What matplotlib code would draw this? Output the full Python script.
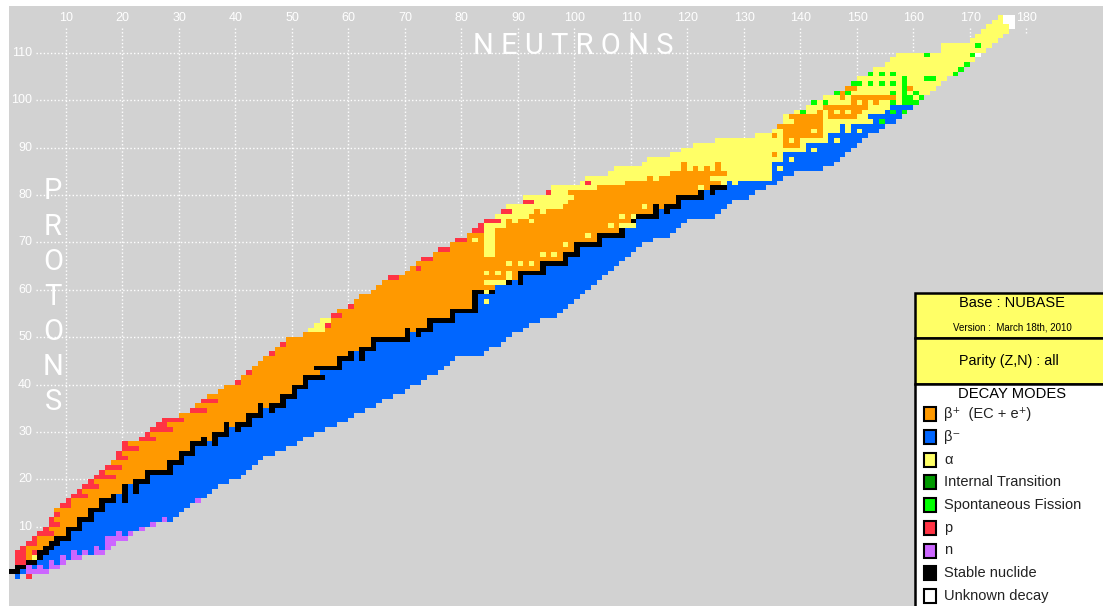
import matplotlib
matplotlib.use('Agg')
import matplotlib.pyplot as plt
import numpy as np
from matplotlib.colors import ListedColormap
from matplotlib.patches import Rectangle

# Lowest and highest neutron number drawn for each Z (index = Z)
n_min = [1, 0, 1, 1, 1, 1, 2, 3, 4, 5,
         6, 7, 7, 8, 8, 9, 10, 11, 12, 13,
         14, 15, 16, 17, 18, 19, 19, 20, 20, 23,
         24, 25, 26, 27, 30, 32, 33, 34, 35, 37,
         38, 40, 41, 42, 43, 44, 45, 46, 47, 48,
         49, 52, 53, 54, 55, 57, 58, 60, 61, 62,
         64, 65, 66, 67, 70, 71, 72, 73, 75, 76,
         78, 79, 81, 82, 83, 84, 86, 87, 88, 91,
         91, 95, 96, 101, 102, 106, 107, 112, 113, 117,
         119, 121, 125, 132, 135, 136, 137, 137, 139, 141,
         142, 144, 146, 148, 149, 150, 152, 153, 155, 156,
         157, 165, 165, 170, 171, 172, 173, 174, 175]
n_max = [1, 6, 8, 9, 12, 16, 17, 18, 20, 21,
         23, 25, 28, 29, 30, 31, 33, 34, 35, 36,
         38, 40, 41, 42, 43, 44, 46, 48, 50, 51,
         53, 55, 57, 59, 60, 62, 64, 65, 67, 69,
         70, 72, 73, 75, 76, 77, 78, 83, 84, 86,
         87, 88, 90, 91, 93, 96, 97, 98, 99, 100,
         101, 102, 103, 104, 105, 106, 107, 108, 109, 110,
         111, 113, 116, 117, 118, 119, 124, 125, 126, 127,
         130, 131, 133, 135, 136, 138, 143, 145, 146, 147,
         148, 149, 150, 151, 153, 154, 156, 157, 158, 159,
         160, 161, 162, 163, 164, 165, 167, 168, 169, 170,
         171, 172, 173, 174, 175, 176, 177, 177, 177]

# Stable nuclides, Z: N values
stable = {1: [0, 1], 2: [1, 2], 3: [3, 4], 4: [5], 5: [5, 6], 6: [6, 7], 7: [7, 8],
          8: [8, 9, 10], 9: [10], 10: [10, 11, 12], 11: [12], 12: [12, 13, 14], 13: [14],
          14: [14, 15, 16], 15: [16], 16: [16, 17, 18, 20], 17: [18, 20], 18: [20, 22],
          19: [20, 22], 20: [22, 23, 24], 21: [24], 22: [24, 25, 26, 27, 28], 23: [28],
          24: [28, 29, 30], 25: [30], 26: [30, 31, 32], 27: [32], 28: [32, 33, 34, 36],
          29: [34, 36], 30: [36, 37, 38], 31: [38, 40], 32: [38, 40, 41, 42], 33: [42],
          34: [42, 43, 44], 35: [44, 46], 36: [44, 46, 47, 48], 37: [48], 38: [48, 49, 50],
          39: [50], 40: [50, 51, 52], 41: [52], 42: [52, 53, 54, 55], 44: [54, 55, 56, 57, 58],
          45: [58], 46: [58, 59, 60, 62], 47: [60, 62], 48: [62, 63, 64], 49: [64],
          50: [64, 65, 66, 67, 68, 69, 70], 51: [70, 72], 52: [70, 72, 73, 74], 53: [74],
          54: [74, 75, 76, 77, 78], 55: [78], 56: [78, 79, 80, 81, 82], 57: [82], 58: [82],
          59: [82], 60: [82, 83, 85], 62: [88, 90], 63: [90], 64: [90, 91, 92, 93, 94],
          65: [94], 66: [94, 95, 96, 97, 98], 67: [98], 68: [98, 99, 100], 69: [100],
          70: [100, 101, 102, 103, 104], 71: [104], 72: [104, 105, 106, 107, 108], 73: [108],
          75: [110], 76: [111, 112, 113, 114], 77: [114, 116], 78: [114, 116, 117, 118],
          79: [118], 80: [118, 119, 120, 121, 122], 81: [122, 124], 82: [124, 125, 126]}

# First beta- neutron number where a row has no stable nuclide
blue_start = {0: 1, 43: 55, 61: 86, 74: 111,
              83: 129, 84: 135, 85: 135, 86: 135, 87: 135, 88: 137, 89: 137, 90: 141,
              91: 141, 92: 145, 93: 145, 94: 149, 95: 149, 96: 153, 97: 152, 98: 155, 99: 156}
blue_cells = {83: [127], 94: [147], 95: [147]}

alpha_cells = {4: [4], 52: [53, 54, 55], 53: [54, 55], 54: [55, 56], 58: [84], 60: [84],
               62: [84, 85, 86, 87], 63: [88], 64: [84, 86, 88], 66: [88, 90, 92],
               68: [84, 85, 94, 96], 69: [84, 85], 70: [84, 85, 98], 71: [82, 84, 85],
               72: [84, 85, 102], 73: [84, 85], 74: [84, 85, 86, 87, 106, 108, 109, 110],
               75: [87, 89, 92], 76: [86, 87, 88, 89, 90, 91, 108, 110],
               77: [89, 90, 91, 92, 94], 78: [*range(88, 98), 112], 79: [*range(93, 99)],
               80: [*range(91, 100)], 81: [96, 97, 98], 82: [*range(96, 104), 122],
               86: [136], 88: [138], 90: [142], 92: [146], 94: [148, 150], 95: [148]}

orange_cells = {29: [35], 32: [39], 36: [45], 52: [71], 63: [89], 78: [115],
                83: [*range(109, 126)], 84: [113, *range(115, 124)], 85: [*range(117, 127)],
                86: [119, 121, 123, 125], 87: [119, 125], 89: [135], 91: [137, 138, 139],
                92: [137, 139], 93: [135, *range(137, 144)], 94: [137, 138, 139, 140, 141, 143],
                95: [*range(136, 144)], 96: [*range(139, 144)],
                97: [*range(138, 144), *range(145, 150)], 98: [143, 145, 147, 149, 150],
                99: [*range(144, 152)], 100: [149, 151, 153], 101: [147, *range(149, 157)],
                102: [147], 103: [148, 149, 159]}

proton_cells = {0: [3], 3: [1, 2], 4: [1, 2], 5: [1, 2, 4], 6: [2], 7: [3, 4], 8: [4], 9: [5, 6, 7],
                10: [6], 11: [7, 8], 12: [7], 13: [8], 15: [9, 10], 16: [10], 17: [11, 12, 13],
                18: [12], 19: [13, 14, 15], 20: [14], 21: [15, 16, 17, 18], 22: [16],
                23: [17, 18, 19], 25: [19, 20], 26: [19], 27: [20, 21, 22], 28: [20],
                29: [23, 24, 25], 30: [24], 31: [25, 26, 27, 28], 32: [26, 27],
                33: [27, 28, 29, 30], 35: [32, 33, 34], 37: [34, 35, 36], 41: [40], 43: [42],
                47: [46], 49: [48], 53: [56], 55: [57, 58], 57: [60], 63: [67, 68], 65: [72],
                67: [73, 74], 69: [76, 77], 71: [79, 80], 73: [82, 83], 74: [83],
                75: [84, 85, 86], 77: [87, 88], 79: [91, 92], 81: [95], 83: [102]}

neutron_cells = {1: [3, 4, 5, 6], 2: [3, 5, 7, 8], 3: [7, 9], 4: [9, 11, 12], 5: [11, 13, 15, 16],
                 6: [15, 17], 7: [17, 18], 8: [17, 18, 19, 20], 9: [19, 21], 10: [23], 11: [25],
                 12: [27], 16: [33]}

fission_cells = {96: [154], 98: [140, 156, 158], 100: [142, 144, 156, 158, 159, 160],
                 101: [158, 159, 161], 102: [146, 148, 156, 158, 160], 103: [158],
                 104: [149, 150, 152, 154, 156, 158], 105: [158, 162, 163],
                 106: [152, 154, 156, 167], 107: [168], 108: [169], 110: [162, 170], 112: [171]}

unknown_cells = {110: [171], 116: [177], 117: [176, 177], 118: [176, 177]}

x_ticks = list(range(10, 190, 10))
y_ticks = list(range(10, 120, 10))

legend_labels = ['β⁺  (EC + e⁺)', 'β⁻', 'α', 'Internal Transition', 'Spontaneous Fission',
                 'p', 'n', 'Stable nuclide', 'Unknown decay']

ORANGE, BLUE, YELLOW = '#ff9900', '#0066ff', '#ffff66'
DGREEN, GREEN, RED, PURPLE = '#009900', '#00ff00', '#ff3344', '#cc66ff'
BG = '#d2d2d2'
colors = [ORANGE, BLUE, YELLOW, DGREEN, GREEN, RED, PURPLE, 'black', 'white']

# grid codes follow the order of colors, 0 means nothing there
grid = np.zeros((119, 190), dtype=int)
for z in range(119):
    lo, hi = n_min[z], n_max[z]
    if z >= 83:
        grid[z, lo:hi + 1] = 3
        if z in blue_start:
            grid[z, blue_start[z]:hi + 1] = 2
    elif z in stable:
        grid[z, lo:stable[z][0]] = 1
        grid[z, stable[z][0]:hi + 1] = 2
    else:
        grid[z, lo:blue_start[z]] = 1
        grid[z, blue_start[z]:hi + 1] = 2


def paint(cells, code):
    for z, ns in cells.items():
        grid[z, ns] = code


paint(blue_cells, 2)
paint(alpha_cells, 3)
paint(orange_cells, 1)
paint(proton_cells, 6)
paint(neutron_cells, 7)
paint(fission_cells, 5)
paint(stable, 8)
paint(unknown_cells, 9)

plt.rcParams['font.family'] = ['Liberation Sans', 'DejaVu Sans']
fig = plt.figure(figsize=(11.03, 6.06), dpi=100, facecolor='white')

# Chart axes, one N = 5.65 px and one Z = 4.74 px
ax = fig.add_axes([9 / 1103, 0, 1094 / 1103, 600 / 606], facecolor=BG)
ax.set_xlim(0, 1094 / 5.65)
ax.set_ylim(-31.9 / 4.74, 568.1 / 4.74)
for s in ax.spines.values():
    s.set_visible(False)
ax.set_xticks([])
ax.set_yticks([])

cmap = ListedColormap(colors)
masked = np.ma.masked_equal(grid, 0)
ax.pcolormesh(np.arange(191), np.arange(-1, 119), masked, cmap=cmap, vmin=0.5, vmax=9.5,
              antialiased=False, linewidth=0, zorder=3)

# Dotted guides run from the edge to the first nuclide
for n in x_ticks:
    rows = np.nonzero(grid[:, n])[0]
    end = rows.max() if len(rows) else 114
    ax.plot([n, n], [115.2, end], color='white', lw=1, ls=(0, (1, 1.6)), zorder=2)
    ax.text(n + 0.1, 117.4, str(n), color='white', ha='center', va='center', fontsize=9, zorder=4)
for z in y_ticks:
    ax.plot([4.8, n_min[z]], [z, z], color='white', lw=1, ls=(0, (1, 1.6)), zorder=2)
    ax.text(4.1, z, str(z), color='white', ha='right', va='center', fontsize=9, zorder=4)

# Overlay in pixel coordinates for titles and the side panel
ov = fig.add_axes([0, 0, 1, 1], facecolor='none')
ov.set_xlim(0, 1103)
ov.set_ylim(606, 0)
ov.axis('off')

ov.text(573, 46, 'N E U T R O N S', color='white', fontsize=21, ha='center', va='center',
        family=['Roboto', 'Liberation Sans'])
for letter, y in zip('PROTONS', [191, 227, 262, 297, 332, 367, 402]):
    ov.text(53, y, letter, color='white', fontsize=21, ha='center', va='center',
            family=['Roboto', 'Liberation Sans'])

ov.add_patch(Rectangle((914.5, 292.5), 200, 45, fc=YELLOW, ec='black', lw=1.8))
ov.add_patch(Rectangle((914.5, 337.5), 200, 46, fc=YELLOW, ec='black', lw=1.8))
ov.add_patch(Rectangle((914.5, 383.5), 200, 240, fc='white', ec='black', lw=1.8))

ov.text(1012, 303, 'Base : NUBASE', ha='center', va='center', fontsize=10.5)
ov.text(1012, 327, 'Version :  March 18th, 2010', ha='center', va='center', fontsize=7)
ov.text(1009, 361, 'Parity (Z,N) : all', ha='center', va='center', fontsize=10.3)
ov.text(1012, 394, 'DECAY MODES', ha='center', va='center', fontsize=10.6)

for i, (label, c) in enumerate(zip(legend_labels, colors)):
    y = 414 + i * 22.75
    ov.add_patch(Rectangle((923.5, y - 7), 12.5, 14, fc=c, ec='black', lw=1.5))
    ov.text(944, y, label, ha='left', va='center', fontsize=10.5, color='#222222')

plt.savefig('out.png', dpi=100)
